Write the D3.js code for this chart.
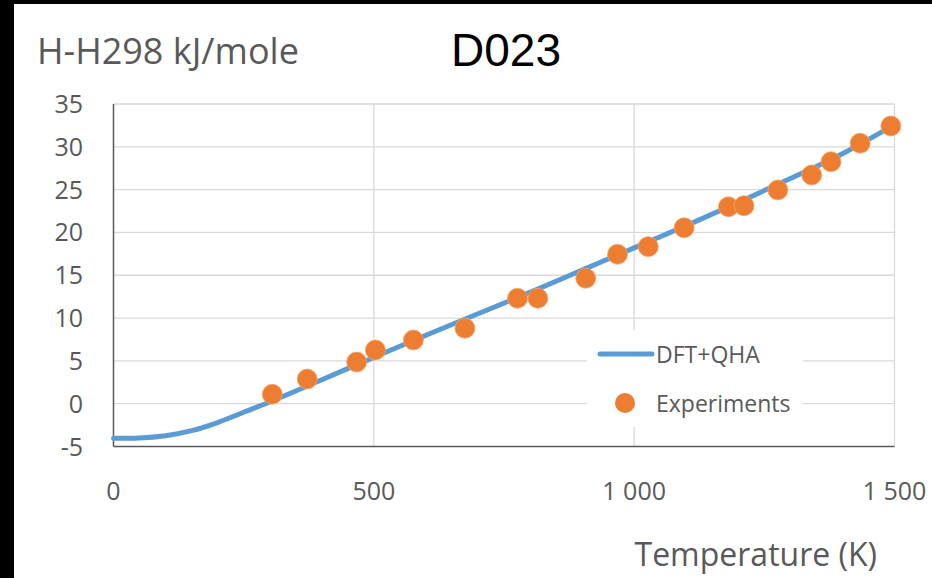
<!DOCTYPE html>
<html>
<head>
<meta charset="utf-8">
<script src="https://d3js.org/d3.v7.min.js"></script>
<style>
  body { margin: 0; background: #fff; }
  svg { display: block; }
</style>
</head>
<body>
<div id="chart"></div>
<script>
// DFT+QHA curve (temperature K, H-H298 kJ/mole)
var curveT = [0, 50, 100, 150, 200, 250, 300, 400, 500, 600, 700, 800, 900, 1000, 1100, 1200, 1300, 1400, 1500];
var curveH = [-4.05, -4.0, -3.75, -3.15, -2.2, -1.0, 0.2, 2.8, 5.4, 8.0, 10.5, 13.0, 15.6, 18.2, 20.8, 23.5, 26.3, 29.2, 32.6];

// experiments
var expT = [305, 372, 467, 503, 576, 675, 776, 815, 907, 968, 1027, 1096, 1181, 1211, 1276, 1341, 1378, 1434, 1493];
var expH = [1.1, 2.88, 4.87, 6.27, 7.44, 8.81, 12.31, 12.31, 14.65, 17.45, 18.34, 20.55, 23.0, 23.12, 24.96, 26.71, 28.26, 30.41, 32.43];

var yTicks = [-5, 0, 5, 10, 15, 20, 25, 30, 35];
var xTicks = [0, 500, 1000, 1500];
var xTickLabels = ["0", "500", "1 000", "1 500"];
var seriesNames = ["DFT+QHA", "Experiments"];

var W = 932, H = 578;
var blue = "#5b9bd5", orange = "#ed7d31", grey = "#595959", grid = "#d9d9d9";

var svg = d3.select("#chart").append("svg")
    .attr("width", W)
    .attr("height", H);

// black frame strips from the screenshot
svg.append("rect").attr("x", 0).attr("y", 0).attr("width", W).attr("height", H).attr("fill", "#fff");
svg.append("rect").attr("x", 0).attr("y", 0).attr("width", 14).attr("height", H).attr("fill", "#000");
svg.append("rect").attr("x", 0).attr("y", 0).attr("width", W).attr("height", 4).attr("fill", "#000");

var x = d3.scaleLinear().domain([0, 1500]).range([113.5, 894.5]);
var y = d3.scaleLinear().domain([-5, 35]).range([446.5, 104]);

// gridlines
svg.append("g")
  .selectAll("line")
  .data(yTicks.filter(function(d) { return d > -5; }))
  .enter().append("line")
    .attr("x1", x(0)).attr("x2", x(1500))
    .attr("y1", function(d) { return y(d); })
    .attr("y2", function(d) { return y(d); })
    .attr("stroke", grid).attr("stroke-width", 1.3);

svg.append("g")
  .selectAll("line")
  .data(xTicks.filter(function(d) { return d > 0; }))
  .enter().append("line")
    .attr("x1", function(d) { return x(d); })
    .attr("x2", function(d) { return x(d); })
    .attr("y1", y(35)).attr("y2", y(-5))
    .attr("stroke", grid).attr("stroke-width", 1.3);

// axes lines
svg.append("line")
  .attr("x1", x(0)).attr("x2", x(0)).attr("y1", y(35)).attr("y2", y(-5))
  .attr("stroke", grey).attr("stroke-width", 1.5);
svg.append("line")
  .attr("x1", x(0)).attr("x2", x(1500)).attr("y1", y(-5)).attr("y2", y(-5))
  .attr("stroke", grey).attr("stroke-width", 1.5);

// tick labels
svg.append("g")
  .selectAll("text")
  .data(yTicks)
  .enter().append("text")
    .attr("x", 83)
    .attr("y", function(d) { return y(d); })
    .attr("dy", "0.36em")
    .attr("text-anchor", "end")
    .attr("fill", grey)
    .style("font-family", "Open Sans")
    .style("font-size", "25px")
    .text(function(d) { return d; });

svg.append("g")
  .selectAll("text")
  .data(xTicks)
  .enter().append("text")
    .attr("x", function(d) { return x(d); })
    .attr("y", 500)
    .attr("text-anchor", "middle")
    .attr("fill", grey)
    .style("font-family", "Open Sans")
    .style("font-size", "25px")
    .text(function(d, i) { return xTickLabels[i]; });

// titles
svg.append("text")
  .attr("x", 37).attr("y", 64)
  .attr("fill", grey)
  .style("font-family", "Open Sans")
  .style("font-size", "36px")
  .text("H-H298 kJ/mole");

svg.append("text")
  .attr("x", 506).attr("y", 66)
  .attr("text-anchor", "middle")
  .attr("fill", "#000")
  .style("font-family", "Liberation Sans, Arial")
  .style("font-size", "46px")
  .text("D023");

svg.append("text")
  .attr("x", 877).attr("y", 566)
  .attr("text-anchor", "end")
  .attr("fill", grey)
  .style("font-family", "Open Sans")
  .style("font-size", "32px")
  .text("Temperature (K)");

// DFT+QHA line
var curveData = curveT.map(function(t, i) { return {T: t, H: curveH[i]}; });
svg.append("path")
  .datum(curveData)
  .attr("d", d3.line()
    .x(function(d) { return x(d.T); })
    .y(function(d) { return y(d.H); })
    .curve(d3.curveMonotoneX))
  .attr("fill", "none")
  .attr("stroke", blue)
  .attr("stroke-width", 5)
  .attr("stroke-linecap", "round");

// experiment points
var expData = expT.map(function(t, i) { return {T: t, H: expH[i]}; });
svg.append("g")
  .selectAll("circle")
  .data(expData)
  .enter().append("circle")
    .attr("cx", function(d) { return x(d.T); })
    .attr("cy", function(d) { return y(d.H); })
    .attr("r", 10)
    .attr("fill", orange)
    .attr("stroke", "#f4a56e")
    .attr("stroke-width", 0.8);

// legend
var legend = svg.append("g");
legend.append("rect")
  .attr("x", 587).attr("y", 330).attr("width", 216).attr("height", 97)
  .attr("fill", "#fff");
legend.append("line")
  .attr("x1", 600).attr("x2", 652).attr("y1", 354).attr("y2", 354)
  .attr("stroke", blue).attr("stroke-width", 5).attr("stroke-linecap", "round");
legend.append("circle")
  .attr("cx", 625).attr("cy", 403).attr("r", 10)
  .attr("fill", orange);
legend.selectAll("text")
  .data(seriesNames)
  .enter().append("text")
    .attr("x", 656)
    .attr("y", function(d, i) { return 355 + i * 49; })
    .attr("dy", "0.36em")
    .attr("fill", grey)
    .style("font-family", "Open Sans")
    .style("font-size", "23px")
    .text(function(d) { return d; });
</script>
</body>
</html>
